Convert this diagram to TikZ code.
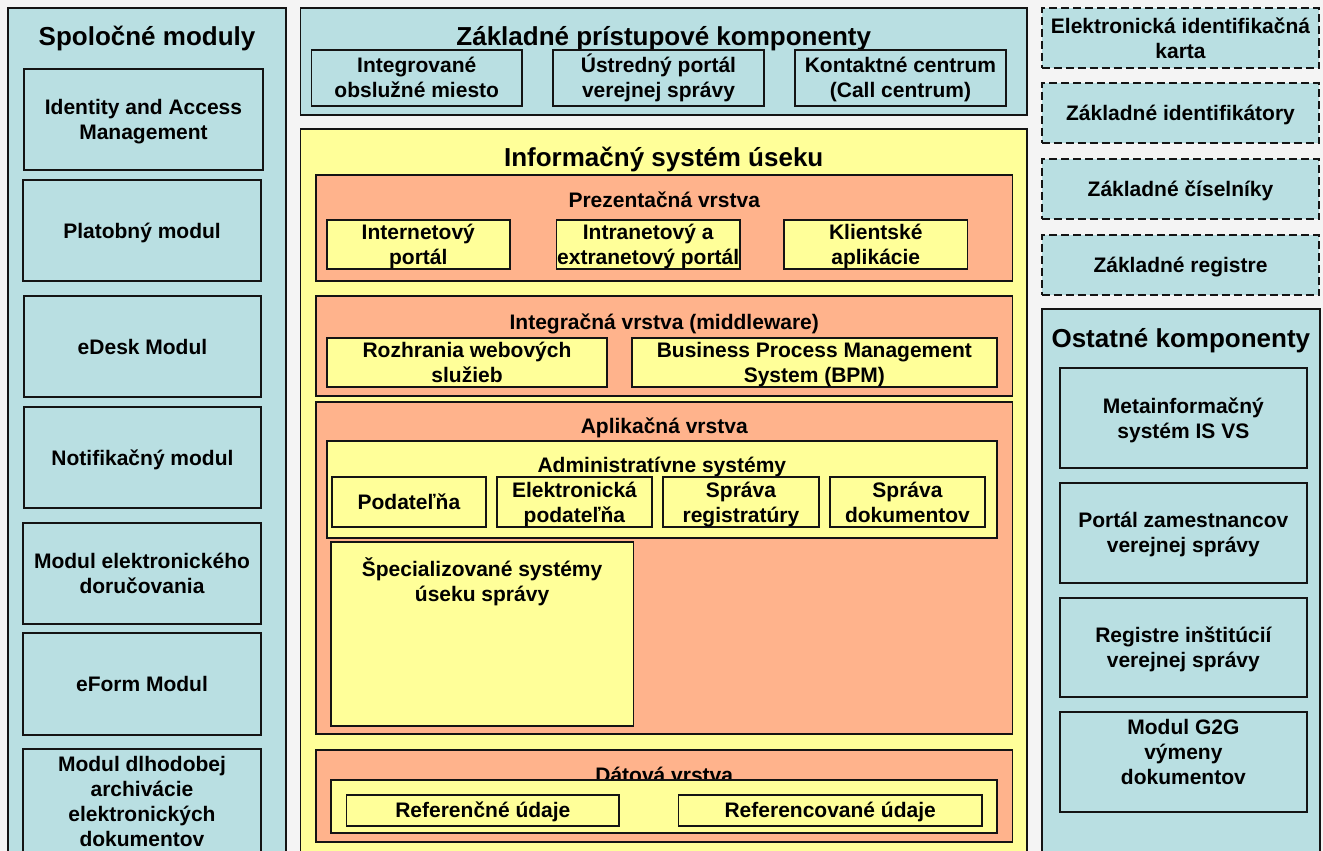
\documentclass[tikz,border=0pt]{standalone}
\usepackage{fontspec}
\setmainfont{Liberation Sans}
\definecolor{cblue}{RGB}{185,223,226}
\definecolor{cyel}{RGB}{255,255,153}
\definecolor{csal}{RGB}{255,179,140}
\definecolor{cline}{RGB}{20,20,20}
\definecolor{bgc}{RGB}{244,244,244}
% box: style, name, x1, y1, x2, y2
\newcommand\mybox[6]{%
  \pgfmathsetmacro\mbw{#5-#3}\pgfmathsetmacro\mbh{#6-#4}%
  \node[#1, minimum width=\mbw pt, minimum height=\mbh pt] (#2) at ({(#3+#5)/2},{(#4+#6)/2}) {};}
% centred text in a box: [down offset], name, box, number of lines, text
% (the base anchor of a multi-line node is its last line)
\newcommand\mytext[5][0]{%
  \node[txt, anchor=base] (#2) at ([yshift={-(#4-1)*12.5-7.5-(#1)}]#3.center) {#5};}
% heading near the top of a box: style, name, box, distance top->baseline, text
\newcommand\mytop[5]{%
  \node[#1, anchor=base] (#2) at ([yshift=-#4]#3.north) {#5};}
\begin{document}
\begin{tikzpicture}[x=1pt,y=-1pt,
  box/.style={rectangle, draw=cline, line width=1.8pt, inner sep=0pt, outer sep=0pt},
  bluebox/.style={box, fill=cblue},
  yelbox/.style={box, fill=cyel},
  salbox/.style={box, fill=csal},
  dashbox/.style={box, fill=cblue, dash pattern=on 8pt off 4pt},
  txt/.style={font=\fontsize{21}{25}\selectfont\bfseries, align=center, inner sep=0pt, text=black},
  ttl/.style={font=\fontsize{26}{30}\selectfont\bfseries, align=center, inner sep=0pt, text=black}]
\path[use as bounding box, fill=bgc] (0,0) rectangle (1323,851);
\clip (0,0) rectangle (1323,851);

% ---------- left column ----------
\mybox{bluebox}{spol}{8}{8}{286}{880}
\mytop{ttl}{spolT}{spol}{37.3}{Spoločné moduly}
\mybox{bluebox}{iam}{24}{69}{263}{170}
\mybox{bluebox}{plat}{23}{180}{261}{281}
\mybox{bluebox}{edesk}{24}{296}{261}{397}
\mybox{bluebox}{notif}{24}{407}{261}{508}
\mybox{bluebox}{doruc}{23}{523}{261}{624}
\mybox{bluebox}{eform}{23}{633}{261}{735}
\mybox{bluebox}{archiv}{23}{749}{261}{870}
\mytext{iamT}{iam}{2}{Identity and Access\\Management}
\mytext{platT}{plat}{1}{Platobný modul}
\mytext{edeskT}{edesk}{1}{eDesk Modul}
\mytext{notifT}{notif}{1}{Notifikačný modul}
\mytext{dorucT}{doruc}{2}{Modul elektronického\\doručovania}
\mytext{eformT}{eform}{1}{eForm Modul}
\mytext[-8.5]{archivT}{archiv}{4}{Modul dlhodobej\\archivácie\\elektronických\\dokumentov}

% ---------- middle: access components ----------
\mybox{bluebox}{zpk}{300.5}{8}{1027}{115}
\mytop{ttl}{zpkT}{zpk}{37.3}{Základné prístupové komponenty}
\mybox{bluebox}{iom}{311.5}{50}{522}{106}
\mybox{bluebox}{upvs}{553}{50}{764}{106}
\mybox{bluebox}{kc}{795}{50}{1006}{106}
\mytext{iomT}{iom}{2}{Integrované\\obslužné miesto}
\mytext{upvsT}{upvs}{2}{Ústredný portál\\verejnej správy}
\mytext{kcT}{kc}{2}{Kontaktné centrum\\(Call centrum)}

% ---------- middle: information system ----------
\mybox{yelbox}{is}{300.5}{129}{1027}{880}
\mytop{ttl}{isT}{is}{37.3}{Informačný systém úseku}

\mybox{salbox}{prez}{316}{175}{1012.5}{281}
\mytop{txt}{prezT}{prez}{32.5}{Prezentačná vrstva}
\mybox{yelbox}{inet}{327}{220}{509.6}{269}
\mybox{yelbox}{intra}{556.5}{220}{740}{269}
\mybox{yelbox}{klient}{784}{220}{967.5}{269}
\mytext{inetT}{inet}{2}{Internetový\\portál}
\mytext{intraT}{intra}{2}{Intranetový a\\extranetový portál}
\mytext{klientT}{klient}{2}{Klientské\\aplikácie}

\mybox{salbox}{integ}{316}{296}{1012.5}{395.7}
\mytop{txt}{integT}{integ}{33.2}{Integračná vrstva (middleware)}
\mybox{yelbox}{ws}{327}{337.7}{607}{386.7}
\mybox{yelbox}{bpm}{632}{337.7}{996.7}{386.7}
\mytext{wsT}{ws}{2}{Rozhrania webových\\služieb}
\mytext{bpmT}{bpm}{2}{Business Process Management\\System (BPM)}

\mybox{salbox}{aplik}{316}{402.3}{1012.5}{734.3}
\mytop{txt}{aplikT}{aplik}{30.9}{Aplikačná vrstva}
\mybox{yelbox}{admin}{327}{441}{996.7}{538.3}
\mytop{txt}{adminT}{admin}{31.5}{Administratívne systémy}
\mybox{yelbox}{podat}{331.6}{477.3}{486.2}{526.7}
\mybox{yelbox}{epodat}{496.7}{477.3}{652.2}{526.7}
\mybox{yelbox}{sreg}{663.2}{477.3}{818.7}{526.7}
\mybox{yelbox}{sdok}{829.7}{477.3}{985.2}{526.7}
\mytext{podatT}{podat}{1}{Podateľňa}
\mytext{epodatT}{epodat}{2}{Elektronická\\podateľňa}
\mytext{sregT}{sreg}{2}{Správa\\registratúry}
\mytext{sdokT}{sdok}{2}{Správa\\dokumentov}
\mybox{yelbox}{spec}{330.7}{542.3}{633.5}{725.7}
\mytext[-53]{specT}{spec}{2}{Špecializované systémy\\úseku správy}

\mybox{salbox}{data}{316}{750}{1012.5}{842.3}
\mytop{txt}{dataT}{data}{32}{Dátová vrstva}
\mybox{yelbox}{dataIn}{330.7}{780}{996.7}{832.7}
\mybox{yelbox}{refn}{346.5}{795}{619.2}{825.7}
\mybox{yelbox}{refc}{678.5}{795}{981.9}{825.7}
\mytext{refnT}{refn}{1}{Referenčné údaje}
\mytext{refcT}{refc}{1}{Referencované údaje}

% ---------- right column ----------
\mybox{dashbox}{eid}{1041.7}{8.3}{1319.3}{68.3}
\mybox{dashbox}{zid}{1041.7}{83.3}{1319.3}{143.3}
\mybox{dashbox}{zcis}{1041.7}{159.3}{1319.3}{219}
\mybox{dashbox}{zreg}{1041.7}{235}{1319.3}{295}
\mytext{eidT}{eid}{2}{Elektronická identifikačná\\karta}
\mytext{zidT}{zid}{1}{Základné identifikátory}
\mytext{zcisT}{zcis}{1}{Základné číselníky}
\mytext{zregT}{zreg}{1}{Základné registre}

\mybox{bluebox}{ost}{1041.7}{309.3}{1320}{880}
\mytop{ttl}{ostT}{ost}{38.3}{Ostatné komponenty}
\mybox{bluebox}{meta}{1060}{368.3}{1306.7}{467.7}
\mybox{bluebox}{portal}{1060}{482.7}{1306.7}{582.7}
\mybox{bluebox}{reginst}{1060}{597.7}{1306.7}{697.3}
\mybox{bluebox}{gtog}{1060}{712.3}{1306.7}{811.7}
\mytext{metaT}{meta}{2}{Metainformačný\\systém IS VS}
\mytext{portalT}{portal}{2}{Portál zamestnancov\\verejnej správy}
\mytext{reginstT}{reginst}{2}{Registre inštitúcií\\verejnej správy}
\mytext[-10]{gtogT}{gtog}{3}{Modul G2G\\výmeny\\dokumentov}
\end{tikzpicture}
\end{document}
